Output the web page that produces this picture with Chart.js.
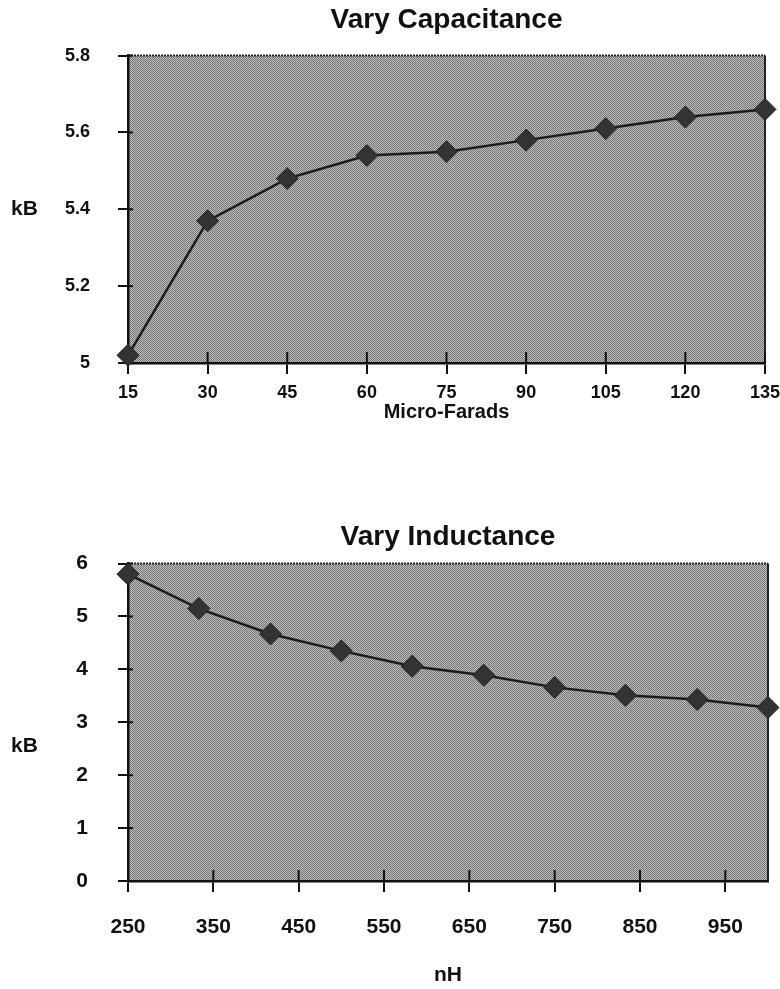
<!DOCTYPE html>
<html>
<head>
<meta charset="utf-8">
<script src="https://cdn.jsdelivr.net/npm/chart.js@4/dist/chart.umd.min.js"></script>
<style>
  html, body { margin: 0; padding: 0; background: #fff; }
  .box { position: absolute; left: 0; width: 780px; }
  #top { top: 0; height: 440px; }
  #bottom { top: 500px; height: 489px; }
</style>
</head>
<body>
<div class="box" id="top"><canvas id="capChart"></canvas></div>
<div class="box" id="bottom"><canvas id="indChart"></canvas></div>
<script>
// capacitance sweep (micro-farads -> kB)
const capValues = [15, 30, 45, 60, 75, 90, 105, 120, 135];
const capKB = [5.02, 5.37, 5.48, 5.54, 5.55, 5.58, 5.61, 5.64, 5.66];
const capXTicks = [15, 30, 45, 60, 75, 90, 105, 120, 135];
const capYTicks = [5, 5.2, 5.4, 5.6, 5.8];

// inductance sweep (nH -> kB)
const indValues = [250, 333, 417, 500, 583, 667, 750, 833, 917, 1000];
const indKB = [5.80, 5.15, 4.67, 4.35, 4.06, 3.89, 3.66, 3.51, 3.43, 3.28];
const indXTicks = [250, 350, 450, 550, 650, 750, 850, 950];
const indYTicks = [0, 1, 2, 3, 4, 5, 6];

const FONT = "'Liberation Sans', Arial, Helvetica, sans-serif";

// stipple fill for the plot area
function stipple(ctx) {
  const c = document.createElement('canvas');
  c.width = 2; c.height = 2;
  const g = c.getContext('2d');
  g.fillStyle = '#bdbdbd'; g.fillRect(0, 0, 2, 2);
  g.fillStyle = '#767676'; g.fillRect(0, 0, 1, 1); g.fillRect(1, 1, 1, 1);
  return ctx.createPattern(c, 'repeat');
}

const framePlugin = {
  id: 'frame',
  beforeDraw(chart) {
    const { ctx, chartArea: a } = chart;
    ctx.save();
    ctx.fillStyle = stipple(ctx);
    ctx.fillRect(a.left, a.top, a.right - a.left, a.bottom - a.top);
    ctx.restore();
  },
  beforeDatasetsDraw(chart) {
    const { ctx, chartArea: a, scales } = chart;
    ctx.save();
    // dotted top edge, solid right edge
    ctx.strokeStyle = '#222';
    ctx.lineWidth = 2;
    ctx.setLineDash([2, 1]);
    ctx.beginPath();
    ctx.moveTo(a.left, a.top); ctx.lineTo(a.right, a.top);
    ctx.stroke();
    ctx.setLineDash([]);
    ctx.beginPath();
    ctx.moveTo(a.right, a.top); ctx.lineTo(a.right, a.bottom);
    ctx.stroke();
    // inner part of the tick marks
    ctx.strokeStyle = '#111';
    ctx.lineWidth = 2;
    scales.x.ticks.forEach(t => {
      const px = scales.x.getPixelForValue(t.value);
      ctx.beginPath(); ctx.moveTo(px, a.bottom); ctx.lineTo(px, a.bottom - 11); ctx.stroke();
    });
    scales.y.ticks.forEach(t => {
      const py = scales.y.getPixelForValue(t.value);
      ctx.beginPath(); ctx.moveTo(a.left, py); ctx.lineTo(a.left + 5, py); ctx.stroke();
    });
    ctx.restore();
  },
  afterDraw(chart) {
    const { ctx, chartArea: a } = chart;
    const o = chart.options.plugins.frame;
    ctx.save();
    ctx.fillStyle = '#111';
    ctx.font = 'bold 21px ' + FONT;
    ctx.textAlign = 'left';
    ctx.textBaseline = 'middle';
    ctx.fillText('kB', 11, (a.top + a.bottom) / 2 + (o.kbShift || 0));
    ctx.restore();
  }
};

function makeChart(id, opts) {
  return new Chart(document.getElementById(id), {
    type: 'line',
    data: {
      datasets: [{
        data: opts.xs.map((x, i) => ({ x: x, y: opts.ys[i] })),
        borderColor: '#1c1c1c',
        borderWidth: 2.5,
        pointStyle: 'rectRot',
        pointRadius: 11,
        pointBackgroundColor: '#333',
        pointBorderColor: '#222',
        pointBorderWidth: 1,
        tension: 0,
        clip: false
      }]
    },
    options: {
      responsive: true,
      maintainAspectRatio: false,
      animation: false,
      layout: { padding: { left: 0, right: opts.padRight, top: 0, bottom: opts.padBottom } },
      plugins: {
        legend: { display: false },
        tooltip: { enabled: false },
        frame: { kbShift: opts.kbShift },
        title: {
          display: true,
          text: opts.title,
          fullSize: false,
          color: '#111',
          font: { family: FONT, size: 28, weight: 'bold' },
          padding: opts.titlePad
        }
      },
      scales: {
        x: {
          type: 'linear',
          min: opts.xMin,
          max: opts.xMax,
          afterBuildTicks: s => { s.ticks = opts.xTicks.map(v => ({ value: v })); },
          afterFit: s => {
            s.height = opts.xHeight;
            s.paddingLeft = 0;
            s.paddingRight = 0;
          },
          grid: { drawOnChartArea: false, drawTicks: true, tickLength: 11, color: '#111', lineWidth: 2 },
          border: { display: true, color: '#111', width: 2.5 },
          ticks: {
            color: '#111',
            padding: opts.xTickPad,
            maxRotation: 0,
            autoSkip: false,
            font: { family: FONT, size: opts.xFont, weight: 'bold' },
            callback: v => String(v)
          },
          title: {
            display: true,
            text: opts.xTitle,
            color: '#111',
            font: { family: FONT, size: opts.xTitleFont, weight: 'bold' },
            padding: { top: 0, bottom: 0 }
          }
        },
        y: {
          min: opts.yMin,
          max: opts.yMax,
          afterBuildTicks: s => { s.ticks = opts.yTicks.map(v => ({ value: v })); },
          afterFit: s => {
            s.width = 128;
            s.paddingTop = 0;
            s.paddingBottom = 0;
          },
          grid: { drawOnChartArea: false, drawTicks: true, tickLength: 10, color: '#111', lineWidth: 2 },
          border: { display: true, color: '#111', width: 2.5 },
          ticks: {
            color: '#111',
            padding: opts.yTickPad,
            font: { family: FONT, size: opts.yFont, weight: 'bold' },
            callback: v => String(v)
          }
        }
      }
    },
    plugins: [framePlugin]
  });
}

makeChart('capChart', {
  title: 'Vary Capacitance',
  titlePad: { top: 3, bottom: 19 },
  xs: capValues, ys: capKB,
  xMin: 15, xMax: 135, xTicks: capXTicks,
  yMin: 5, yMax: 5.8, yTicks: capYTicks,
  xTitle: 'Micro-Farads', xTitleFont: 20,
  xHeight: 61, padBottom: 16,
  xTickPad: 8, xFont: 18, yTickPad: 28, yFont: 18,
  padRight: 15, kbShift: 0
});

makeChart('indChart', {
  title: 'Vary Inductance',
  titlePad: { top: 20, bottom: 10 },
  xs: indValues, ys: indKB,
  xMin: 250, xMax: 1000, xTicks: indXTicks,
  yMin: 0, yMax: 6, yTicks: indYTicks,
  xTitle: 'nH', xTitleFont: 21,
  xHeight: 107, padBottom: 1,
  xTickPad: 23, xFont: 21, yTickPad: 30, yFont: 21,
  padRight: 8, kbShift: 24
});
</script>
</body>
</html>
